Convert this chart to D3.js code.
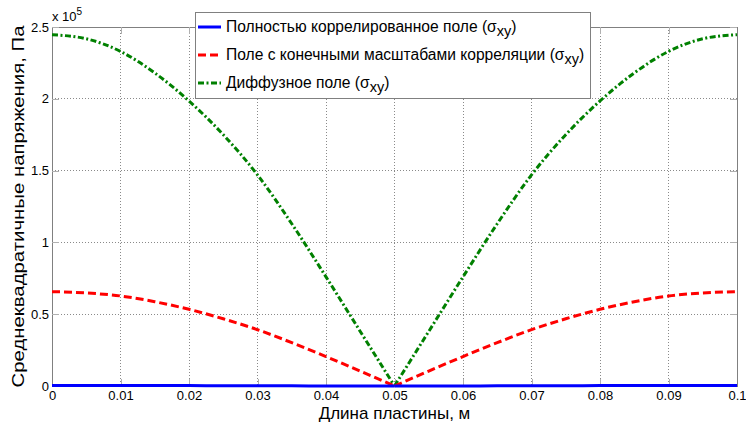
<!DOCTYPE html>
<html>
<head>
<meta charset="utf-8">
<script src="https://cdn.jsdelivr.net/npm/d3@7"></script>
<style>
  html, body { margin: 0; padding: 0; background: #fff; }
  svg { display: block; font-family: "Liberation Sans", Arial, sans-serif; }
</style>
</head>
<body>
<svg id="chart" width="746" height="425"></svg>
<script>
// Plate length positions, m
const plateX = [0, 0.005, 0.01, 0.015, 0.02, 0.025, 0.03, 0.035, 0.04, 0.045, 0.05,
                0.055, 0.06, 0.065, 0.07, 0.075, 0.08, 0.085, 0.09, 0.095, 0.1];
// RMS stress, units of 1e5 Pa
const fullyCorrelated = [0.004, 0.004, 0.0038, 0.0034, 0.0029, 0.0023, 0.0017, 0.0011, 0.0006, 0.0002, 0,
                         0.0002, 0.0006, 0.0011, 0.0017, 0.0023, 0.0029, 0.0034, 0.0038, 0.004, 0.004];
const finiteScales = [0.657, 0.648, 0.627, 0.587, 0.534, 0.468, 0.392, 0.302, 0.205, 0.104, 0,
                      0.104, 0.205, 0.302, 0.392, 0.468, 0.534, 0.587, 0.627, 0.648, 0.657];
const diffuse = [2.446, 2.418, 2.33, 2.18, 1.985, 1.75, 1.47, 1.13, 0.76, 0.38, 0,
                 0.38, 0.76, 1.13, 1.47, 1.75, 1.985, 2.18, 2.33, 2.418, 2.446];
const xTicks = [0, 0.01, 0.02, 0.03, 0.04, 0.05, 0.06, 0.07, 0.08, 0.09, 0.1];
const yTicks = [0, 0.5, 1, 1.5, 2, 2.5];
const seriesNames = ["Полностью коррелированное поле", "Поле с конечными масштабами корреляции", "Диффузное поле"];

const svg = d3.select("#chart");
const m = { left: 52, right: 737, top: 27, bottom: 386 };
const x = d3.scaleLinear().domain([0, 0.1]).range([m.left, m.right]);
const y = d3.scaleLinear().domain([0, 2.5e5]).range([m.bottom, m.top]);

// grid
const grid = svg.append("g");
xTicks.slice(1, -1).forEach(t => {
  grid.append("line").attr("x1", x(t)).attr("x2", x(t)).attr("y1", m.top).attr("y2", m.bottom)
    .attr("stroke", "#8a8a8a").attr("stroke-width", 1).attr("stroke-dasharray", "1,2")
    .attr("shape-rendering", "crispEdges");
});
yTicks.slice(1, -1).forEach(t => {
  grid.append("line").attr("x1", m.left).attr("x2", m.right).attr("y1", y(t * 1e5)).attr("y2", y(t * 1e5))
    .attr("stroke", "#8a8a8a").attr("stroke-width", 1).attr("stroke-dasharray", "1,2")
    .attr("shape-rendering", "crispEdges");
});

// axes with inner ticks on all four sides
const axB = d3.axisBottom(x).tickValues(xTicks).tickSize(-7).tickPadding(5).tickFormat(d => d3.format("~g")(d));
const axT = d3.axisTop(x).tickValues(xTicks).tickSize(-7).tickFormat("");
const axL = d3.axisLeft(y).tickValues(yTicks.map(v => v * 1e5)).tickSize(-7).tickPadding(3).tickFormat(d => d3.format("~g")(d / 1e5));
const axR = d3.axisRight(y).tickValues(yTicks.map(v => v * 1e5)).tickSize(-7).tickFormat("");

function styleAxis(g) {
  g.selectAll("path").attr("stroke", "#808080").attr("shape-rendering", "crispEdges");
  g.selectAll("line").attr("stroke", "#b0b0b0").attr("shape-rendering", "crispEdges");
  g.selectAll("text").attr("fill", "#000").style("font-size", "13px").style("font-family", "Liberation Sans, Arial, sans-serif");
}
svg.append("g").attr("transform", `translate(0,${m.bottom})`).call(axB).call(styleAxis);
svg.append("g").attr("transform", `translate(0,${m.top})`).call(axT).call(styleAxis);
svg.append("g").attr("transform", `translate(${m.left},0)`).call(axL).call(styleAxis);
svg.append("g").attr("transform", `translate(${m.right},0)`).call(axR).call(styleAxis);

// data lines, each drawn as two monotone halves meeting at the centre minimum
function drawSeries(vals, color, dash) {
  const pts = plateX.map((px, i) => [px, vals[i] * 1e5]);
  const mid = 10;
  const line = d3.line().x(d => x(d[0])).y(d => y(d[1])).curve(d3.curveMonotoneX);
  [pts.slice(0, mid + 1), pts.slice(mid)].forEach(seg => {
    svg.append("path").datum(seg).attr("d", line)
      .attr("fill", "none").attr("stroke", color).attr("stroke-width", 3)
      .attr("stroke-dasharray", dash);
  });
}
drawSeries(diffuse, "#008000", "6,2.5,2,2.5");
drawSeries(finiteScales, "#ff0000", "8,4");
drawSeries(fullyCorrelated, "#0000ff", null);

// exponent label
const ex = svg.append("text").attr("x", 52).attr("y", 21).style("font-size", "13px").attr("fill", "#000");
ex.append("tspan").text("x 10");
ex.append("tspan").attr("dy", -6).style("font-size", "10px").text("5");

// axis labels
svg.append("text").attr("x", (m.left + m.right) / 2).attr("y", 419).attr("text-anchor", "middle")
  .style("font-size", "17px").attr("fill", "#000").text("Длина пластины, м");
svg.append("text").attr("transform", `translate(24,${(m.top + m.bottom) / 2}) rotate(-90)`)
  .attr("text-anchor", "middle").style("font-size", "17px").attr("fill", "#000")
  .attr("textLength", 362).attr("lengthAdjust", "spacingAndGlyphs")
  .text("Среднеквадратичные напряжения, Па");

// legend
const lg = svg.append("g");
lg.append("rect").attr("x", 195.5).attr("y", 12.5).attr("width", 395).attr("height", 86)
  .attr("fill", "#fff").attr("stroke", "#808080");
const legendItems = [
  { name: seriesNames[0], color: "#0000ff", dash: null },
  { name: seriesNames[1], color: "#ff0000", dash: "8,4" },
  { name: seriesNames[2], color: "#008000", dash: "6,2.5,2,2.5" }
];
legendItems.forEach((it, i) => {
  const cy = 27 + i * 28;
  lg.append("line").attr("x1", 198).attr("x2", 221).attr("y1", cy).attr("y2", cy)
    .attr("stroke", it.color).attr("stroke-width", 3).attr("stroke-dasharray", it.dash);
  const t = lg.append("text").attr("x", 226).attr("y", cy + 5).style("font-size", "15.6px").attr("fill", "#000");
  t.append("tspan").text(it.name + " (σ");
  t.append("tspan").attr("dy", 4).style("font-size", "14.5px").text("xy");
  t.append("tspan").attr("dy", -4).text(")");
});
</script>
</body>
</html>
